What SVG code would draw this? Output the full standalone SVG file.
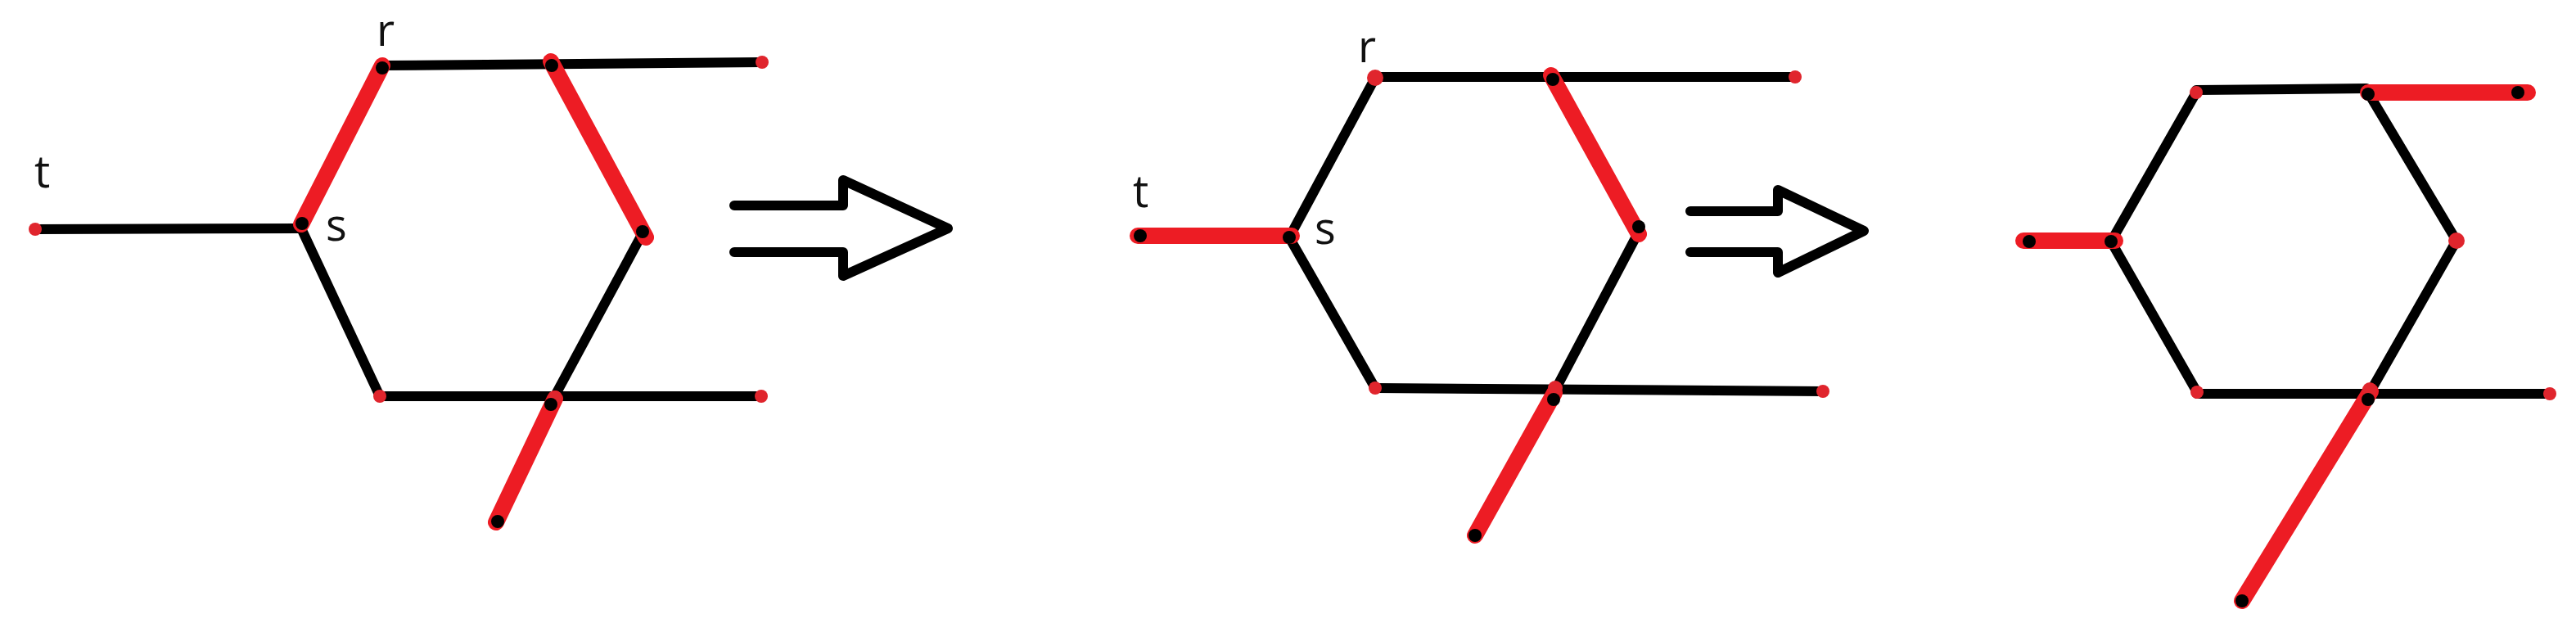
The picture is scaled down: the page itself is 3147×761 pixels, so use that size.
<svg xmlns="http://www.w3.org/2000/svg" width="3147" height="761" viewBox="0 0 3147 761">
<style>
.e{stroke:#000;stroke-width:12;fill:none;stroke-linecap:round;stroke-linejoin:round}
.h{stroke:#ed1c24;stroke-width:20;fill:none;stroke-linecap:round}
.bd{fill:#000}
.rd{fill:#e0252d}
.lbl{font-family:"Open Sans","Liberation Sans",sans-serif;font-size:54px;font-weight:500;fill:#111}
.arr{stroke:#000;stroke-width:12;fill:none;stroke-linejoin:round;stroke-linecap:round}
</style>
<rect width="3147" height="761" fill="#fff"/>
<g id="connectors">
  <!-- panel 1 -->
  <line class="e" x1="43" y1="280" x2="368" y2="279"/>
  <line class="e" x1="368" y1="279" x2="467" y2="80"/>
  <line class="e" x1="467" y1="80" x2="931" y2="76"/>
  <line class="e" x1="673" y1="77" x2="786" y2="283"/>
  <line class="e" x1="786" y1="283" x2="676" y2="487"/>
  <line class="e" x1="368" y1="279" x2="464" y2="484"/>
  <line class="e" x1="464" y1="484" x2="930" y2="484"/>
  <line class="h" x1="368" y1="274" x2="467" y2="80"/>
  <line class="h" x1="673" y1="75" x2="789" y2="290"/>
  <line class="h" x1="678" y1="487" x2="606" y2="638"/>
  <!-- panel 2 -->
  <line class="e" x1="1575" y1="290" x2="1680" y2="95"/>
  <line class="e" x1="1680" y1="94" x2="2193" y2="94"/>
  <line class="e" x1="2002" y1="283" x2="1898" y2="480"/>
  <line class="e" x1="1575" y1="290" x2="1680" y2="474"/>
  <line class="e" x1="1680" y1="474" x2="2227" y2="478"/>
  <line class="h" x1="1390" y1="288" x2="1578" y2="288"/>
  <line class="h" x1="1895" y1="92" x2="2002" y2="286"/>
  <line class="h" x1="1899" y1="480" x2="1802" y2="654"/>
  <!-- panel 3 -->
  <line class="e" x1="2579" y1="295" x2="2683" y2="113"/>
  <line class="e" x1="2683" y1="110" x2="2891" y2="108"/>
  <line class="e" x1="2893" y1="113" x2="3001" y2="294"/>
  <line class="e" x1="3001" y1="294" x2="2893" y2="483"/>
  <line class="e" x1="2579" y1="295" x2="2684" y2="479"/>
  <line class="e" x1="2684" y1="481" x2="3115" y2="481"/>
  <line class="h" x1="2472" y1="294" x2="2584" y2="294"/>
  <line class="h" x1="2893" y1="113" x2="3088" y2="113"/>
  <line class="h" x1="2896" y1="478" x2="2739" y2="734"/>
  <!-- transition arrows -->
  <polyline id="arrow1" class="arr" points="897,251 1030,251 1030,220 1158,279 1030,337 1030,308 897,308"/>
  <polyline id="arrow2" class="arr" points="2065,258 2172,258 2172,232 2277,282 2172,333 2172,308 2065,308"/>
</g>
<!-- panel 1 nodes -->
<g id="p1-t"><circle class="rd" cx="43" cy="280" r="8"/><text class="lbl" x="42" y="229">t</text></g>
<g id="p1-s"><circle class="bd" cx="369" cy="273" r="8"/><text class="lbl" x="398" y="294">s</text></g>
<g id="p1-r"><circle class="bd" cx="467" cy="83" r="8"/><text class="lbl" x="460" y="56">r</text></g>
<g id="p1-tr"><circle class="bd" cx="674" cy="80" r="8"/></g>
<g id="p1-top"><circle class="rd" cx="931" cy="76" r="8"/></g>
<g id="p1-rv"><circle class="bd" cx="785" cy="283" r="8"/></g>
<g id="p1-bl"><circle class="rd" cx="464" cy="484" r="8"/></g>
<g id="p1-br"><circle class="rd" cx="678" cy="485" r="8"/><circle class="bd" cx="673" cy="494" r="8"/></g>
<g id="p1-bot"><circle class="rd" cx="930" cy="484" r="8"/></g>
<g id="p1-tail"><circle class="bd" cx="608" cy="637" r="8"/></g>
<!-- panel 2 nodes -->
<g id="p2-t"><circle class="bd" cx="1393" cy="288" r="8"/><text class="lbl" x="1384" y="253">t</text></g>
<g id="p2-s"><circle class="bd" cx="1575" cy="290" r="8"/><text class="lbl" x="1606" y="298">s</text></g>
<g id="p2-r"><circle class="rd" cx="1680" cy="95" r="10"/><text class="lbl" x="1659" y="76">r</text></g>
<g id="p2-tr"><circle class="bd" cx="1897" cy="97" r="8"/></g>
<g id="p2-top"><circle class="rd" cx="2193" cy="94" r="8"/></g>
<g id="p2-rv"><circle class="bd" cx="2002" cy="277" r="8"/></g>
<g id="p2-bl"><circle class="rd" cx="1680" cy="474" r="8"/></g>
<g id="p2-br"><circle class="rd" cx="1900" cy="474" r="9"/><circle class="bd" cx="1898" cy="488" r="8"/></g>
<g id="p2-bot"><circle class="rd" cx="2227" cy="478" r="8"/></g>
<g id="p2-tail"><circle class="bd" cx="1802" cy="654" r="8"/></g>
<!-- panel 3 nodes -->
<g id="p3-t"><circle class="bd" cx="2479" cy="295" r="8"/></g>
<g id="p3-s"><circle class="bd" cx="2579" cy="295" r="8"/></g>
<g id="p3-tl"><circle class="rd" cx="2683" cy="113" r="8"/></g>
<g id="p3-tr"><circle class="bd" cx="2893" cy="115" r="8"/></g>
<g id="p3-top"><circle class="bd" cx="3076" cy="113" r="8"/></g>
<g id="p3-rv"><circle class="rd" cx="3001" cy="294" r="10"/></g>
<g id="p3-bl"><circle class="rd" cx="2684" cy="479" r="8"/></g>
<g id="p3-br"><circle class="rd" cx="2895" cy="476" r="9"/><circle class="bd" cx="2893" cy="488" r="8"/></g>
<g id="p3-bot"><circle class="rd" cx="3115" cy="481" r="8"/></g>
<g id="p3-tail"><circle class="bd" cx="2739" cy="734" r="8"/></g>
</svg>
